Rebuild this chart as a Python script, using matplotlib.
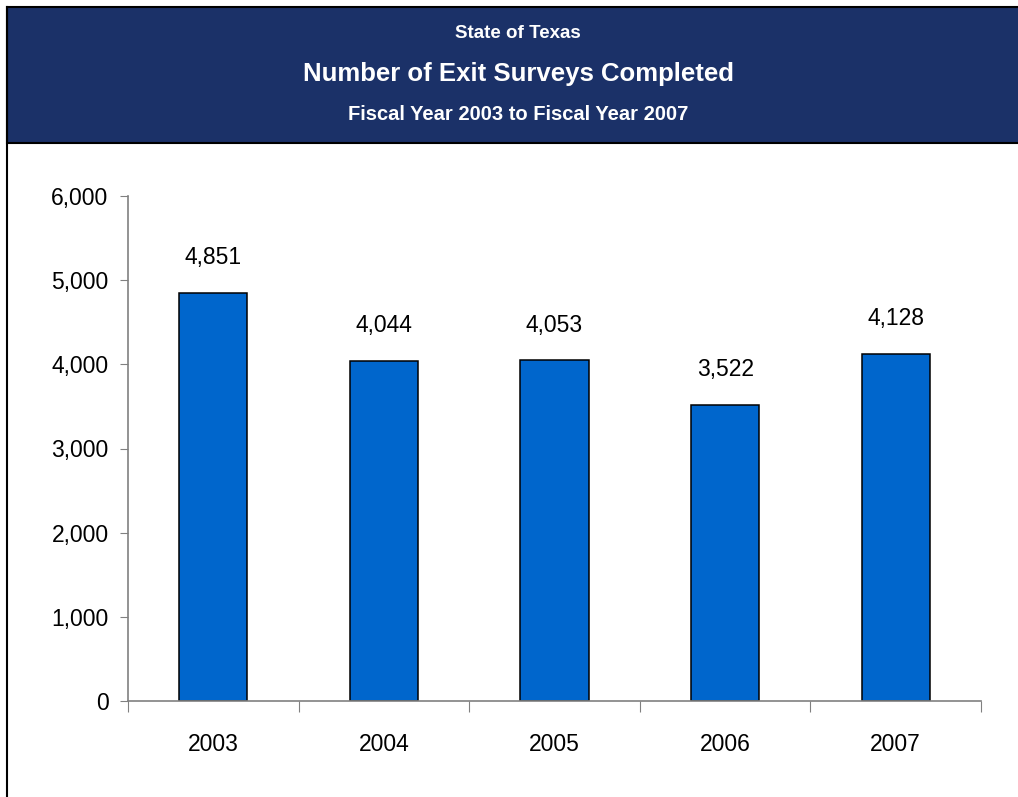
import matplotlib.pyplot as plt
from matplotlib.patches import Rectangle
from matplotlib.lines import Line2D
from matplotlib.ticker import FuncFormatter

years = ['2003', '2004', '2005', '2006', '2007']
surveys = [4851, 4044, 4053, 3522, 4128]

plt.rcParams['font.family'] = ['Liberation Sans', 'DejaVu Sans']

fig = plt.figure(figsize=(10.18, 7.97), dpi=100)
fig.patch.set_facecolor('white')

# header band
fig.add_artist(Rectangle((7 / 1018, 1 - 143 / 797), 1.0, 136 / 797,
                         transform=fig.transFigure, facecolor='#1B3168',
                         edgecolor='black', linewidth=1.5))
fig.add_artist(Line2D([7 / 1018, 7 / 1018], [0, 1 - 7 / 797],
                      transform=fig.transFigure, color='black', linewidth=1.5))

fig.text(0.509, 1 - 33 / 797, 'State of Texas', color='white', fontsize=13.5,
         fontweight='bold', ha='center', va='center')
fig.text(0.509, 1 - 74 / 797, 'Number of Exit Surveys Completed', color='white',
         fontsize=18.5, fontweight='bold', ha='center', va='center')
fig.text(0.509, 1 - 115 / 797, 'Fiscal Year 2003 to Fiscal Year 2007', color='white',
         fontsize=14.5, fontweight='bold', ha='center', va='center')

ax = fig.add_axes([128 / 1018, 1 - 701 / 797, (981 - 128) / 1018, (701 - 196) / 797])
x = range(len(years))
bars = ax.bar(x, surveys, width=0.4, color='#0066CC', edgecolor='black', linewidth=1.1)

for xi, v in zip(x, surveys):
    ax.annotate(f'{v:,}', (xi, v), xytext=(0, 25), textcoords='offset points',
                ha='center', va='center', fontsize=16.5)

ax.set_xlim(-0.5, len(years) - 0.5)
ax.set_ylim(0, 6000)
ax.set_yticks(range(0, 6001, 1000))
ax.yaxis.set_major_formatter(FuncFormatter(lambda v, p: f'{int(v):,}'))

ax.set_xticks([i - 0.5 for i in range(len(years) + 1)])
ax.set_xticklabels([])
ax.set_xticks(list(x), minor=True)
ax.set_xticklabels(years, minor=True)

for s in ['top', 'right']:
    ax.spines[s].set_visible(False)
for s in ['left', 'bottom']:
    ax.spines[s].set_color('#808080')
    ax.spines[s].set_linewidth(1.2)

ax.tick_params(axis='y', length=6, color='#808080', labelsize=16.5, pad=8)
ax.tick_params(axis='x', which='major', length=8, color='#808080')
ax.tick_params(axis='x', which='minor', length=0, labelsize=16.5, pad=23)

fig.savefig('out.png', dpi=100)
